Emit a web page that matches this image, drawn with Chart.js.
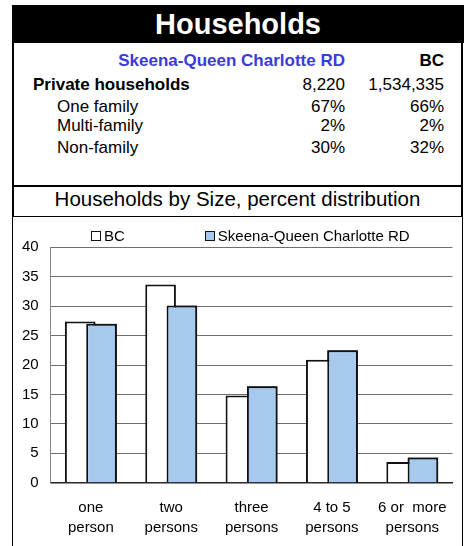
<!DOCTYPE html>
<html>
<head>
<meta charset="utf-8">
<script src="https://cdn.jsdelivr.net/npm/chart.js@4"></script>
<style>
  body { margin: 0; background: #fff; font-family: "Liberation Sans", Arial, sans-serif; color: #000; }
  .abs { position: absolute; box-sizing: border-box; }
  #title { left: 12px; top: 5px; width: 452px; height: 38px; background: #000; color: #fff;
           font-weight: bold; font-size: 29px; text-align: center; line-height: 38px; }
  #table { left: 12px; top: 43px; width: 451px; height: 144px; border-left: 2px solid #000;
           border-right: 2px solid #000; border-bottom: 2px solid #000; }
  #sub { left: 12px; top: 187px; width: 451px; height: 30px; border-left: 2px solid #000;
         border-right: 2px solid #000; border-bottom: 1.5px solid #000; text-align: center;
         font-size: 20.5px; line-height: 24px; }
  #chartBox { left: 12px; top: 217px; width: 451px; height: 340px; border-left: 1.5px solid #000;
              border-right: 1.5px solid #000; }
  #wrap { left: 13px; top: 217px; width: 449px; height: 329px; }
  .row { position: absolute; left: 0; width: 100%; font-size: 17px; height: 20px; line-height: 20px; }
  .row span { position: absolute; white-space: nowrap; }
  #legend { left: 91px; top: 228px; display: flex; gap: 80px; font-size: 15px; line-height: 16px; }
  #legend .item { display: flex; align-items: center; }
  #legend .box { width: 10px; height: 10px; box-sizing: border-box; border: 1.5px solid #111; margin-right: 3px; }
</style>
</head>
<body>
<div id="title" class="abs">Households</div>
<div id="table" class="abs"></div>
<div id="sub" class="abs">Households by Size, percent distribution</div>
<div id="chartBox" class="abs"></div>
<div id="wrap" class="abs"><canvas id="chart"></canvas></div>
<div id="legend" class="abs"></div>

<script>
// summary table
const regionName = "Skeena-Queen Charlotte RD";
const rowLabels = ["Private households", "One family", "Multi-family", "Non-family"];
const regionVals = ["8,220", "67%", "2%", "30%"];
const bcVals = ["1,534,335", "66%", "2%", "32%"];
const rowTops = [32, 54, 73, 95];

// chart data
const sizeLabels = [["one", "person"], ["two", "persons"], ["three", "persons"], ["4 to 5", "persons"], ["6 or  more", "persons"]];
const bcSize = [27.4, 33.7, 14.8, 20.9, 3.5];
const regionSize = [27.0, 30.1, 16.4, 22.5, 4.3];

// build table
const table = document.getElementById("table");
function addRow(top, label, a, b, opts) {
  const row = document.createElement("div");
  row.className = "row";
  row.style.top = top + "px";
  if (label) {
    const s = document.createElement("span");
    s.textContent = label;
    s.style.left = opts.indent + "px";
    if (opts.boldLabel) s.style.fontWeight = "bold";
    row.appendChild(s);
  }
  const sa = document.createElement("span");
  sa.textContent = a;
  sa.style.right = "116px";
  const sb = document.createElement("span");
  sb.textContent = b;
  sb.style.right = "17px";
  if (opts.header) {
    sa.style.fontWeight = "bold"; sa.style.color = "#3b3bd8";
    sb.style.fontWeight = "bold";
  }
  row.appendChild(sa);
  row.appendChild(sb);
  table.appendChild(row);
}
addRow(8, "", regionName, "BC", { header: true });
rowLabels.forEach((lbl, i) => {
  addRow(rowTops[i], lbl, regionVals[i], bcVals[i], { indent: i === 0 ? 19 : 43, boldLabel: i === 0 });
});

// redraw the regional bars so they sit on top of the BC bars
const frontBars = {
  id: "frontBars",
  afterDatasetsDraw(chart) {
    const ctx = chart.ctx;
    ctx.save();
    ctx.beginPath();
    ctx.rect(chart.chartArea.left, chart.chartArea.top, chart.chartArea.width, chart.chartArea.height);
    ctx.clip();
    chart.getDatasetMeta(1).data.forEach(el => el.draw(ctx));
    ctx.restore();
  }
};

const chart = new Chart(document.getElementById("chart"), {
  type: "bar",
  data: {
    labels: sizeLabels,
    datasets: [
      { label: "BC", data: bcSize, backgroundColor: "#ffffff", borderColor: "#111111", borderWidth: 2,
        categoryPercentage: 0.53, barPercentage: 1.44 },
      { label: regionName, data: regionSize, backgroundColor: "#a8c9ee", borderColor: "#111111", borderWidth: 2,
        categoryPercentage: 0.53, barPercentage: 1.44 }
    ]
  },
  options: {
    responsive: true,
    maintainAspectRatio: false,
    animation: false,
    layout: { padding: { top: 30.3, right: 5.3, left: 0, bottom: 0 } },
    plugins: { legend: { display: false }, tooltip: { enabled: false } },
    scales: {
      x: {
        grid: { display: false, drawTicks: false },
        border: { color: "#222", width: 1.5 },
        ticks: { color: "#000", font: { family: "Liberation Sans", size: 15, lineHeight: 1.33 }, padding: 15, maxRotation: 0 },
        afterFit: s => { s.height = 63.3; }
      },
      y: {
        min: 0, max: 40,
        ticks: { stepSize: 5, color: "#000", font: { family: "Liberation Sans", size: 15 }, padding: 12 },
        grid: { color: "#6f6f6f", lineWidth: 1, drawTicks: false },
        border: { color: "#888", width: 1 },
        afterFit: s => { s.width = 37.7; }
      }
    }
  },
  plugins: [frontBars]
});

// legend built from the chart datasets
const legend = document.getElementById("legend");
chart.data.datasets.forEach(ds => {
  const item = document.createElement("div");
  item.className = "item";
  const box = document.createElement("div");
  box.className = "box";
  box.style.background = ds.backgroundColor;
  const txt = document.createElement("span");
  txt.textContent = ds.label;
  item.appendChild(box);
  item.appendChild(txt);
  legend.appendChild(item);
});
</script>
</body>
</html>
